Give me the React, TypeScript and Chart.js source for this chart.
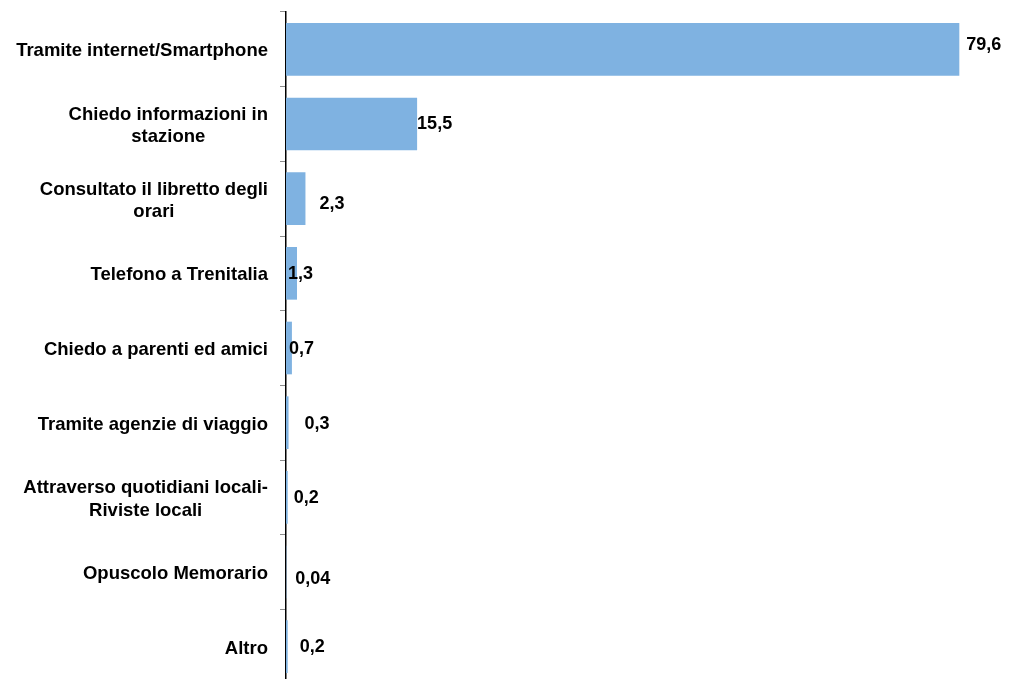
import React, { useEffect, useRef } from "react";
import { Chart, registerables } from "chart.js";

Chart.register(...registerables);

const categories: string[][] = [
  ["Tramite internet/Smartphone"],
  ["Chiedo informazioni in", "stazione"],
  ["Consultato il libretto degli", "orari"],
  ["Telefono a Trenitalia"],
  ["Chiedo a parenti ed amici"],
  ["Tramite agenzie di viaggio"],
  ["Attraverso quotidiani locali-", "Riviste locali"],
  ["Opuscolo Memorario"],
  ["Altro"],
];

const values: number[] = [79.6, 15.5, 2.3, 1.3, 0.7, 0.3, 0.2, 0.04, 0.2];
const valueLabels: string[] = ["79,6", "15,5", "2,3", "1,3", "0,7", "0,3", "0,2", "0,04", "0,2"];

// label offsets (px) relative to bar end: [dx, dy]
const labelOffsets: [number, number][] = [
  [7, -4], [0, 0], [14, 5], [-9, 1], [-3, 1], [16, 1], [6, 1], [9, 7], [12, 0],
];

const FONT = "'Liberation Sans', Arial, sans-serif";

const labelPlugin = {
  id: "customLabels",
  afterDraw(chart: any) {
    const ctx = chart.ctx;
    const yScale = chart.scales.y;
    const meta = chart.getDatasetMeta(0);
    ctx.save();
    ctx.fillStyle = "#000";
    ctx.font = `bold 18.5px ${FONT}`;
    ctx.textBaseline = "middle";
    // category labels
    const right = 268;
    const lineH = 22.5;
    categories.forEach((lines, i) => {
      const yc = yScale.getPixelForValue(i) + 2;
      const widths = lines.map((l) => ctx.measureText(l).width);
      const maxW = Math.max(...widths);
      const cx = right - maxW / 2;
      ctx.textAlign = "center";
      const startY = yc - ((lines.length - 1) * lineH) / 2;
      lines.forEach((l, k) => ctx.fillText(l, cx, startY + k * lineH));
    });
    // value labels
    ctx.font = `bold 18px ${FONT}`;
    ctx.textAlign = "left";
    meta.data.forEach((bar: any, i: number) => {
      const [dx, dy] = labelOffsets[i];
      ctx.fillText(valueLabels[i], bar.x + dx, bar.y + dy);
    });
    ctx.restore();
  },
};

export default function App() {
  const ref = useRef<HTMLCanvasElement>(null);
  useEffect(() => {
    document.body.style.margin = "0";
    const chart = new Chart(ref.current!, {
      type: "bar",
      data: {
        labels: categories.map((c) => c.join(" ")),
        datasets: [
          {
            data: values,
            backgroundColor: "rgb(127,178,225)",
            borderWidth: 0,
            categoryPercentage: 1,
            barPercentage: 0.705,
          },
        ],
      },
      options: {
        indexAxis: "y",
        animation: false,
        responsive: false,
        maintainAspectRatio: false,
        layout: { padding: { left: 280, right: 7, top: 12, bottom: 6 } },
        plugins: { legend: { display: false }, tooltip: { enabled: false } },
        scales: {
          x: { display: false, min: 0, max: 85 },
          y: {
            ticks: { display: false },
            grid: {
              offset: true,
              drawOnChartArea: false,
              drawTicks: true,
              tickLength: 6,
              color: "#8c8c8c",
            },
            border: { display: true, color: "#000", width: 1.5 },
          },
        },
      },
      plugins: [labelPlugin],
    });
    return () => chart.destroy();
  }, []);
  return (
    <div style={{ position: "fixed", left: 0, top: 0, width: 1012, height: 679, overflow: "hidden", background: "#fff" }}>
      <canvas ref={ref} width={1012} height={690} style={{ display: "block" }} />
    </div>
  );
}
